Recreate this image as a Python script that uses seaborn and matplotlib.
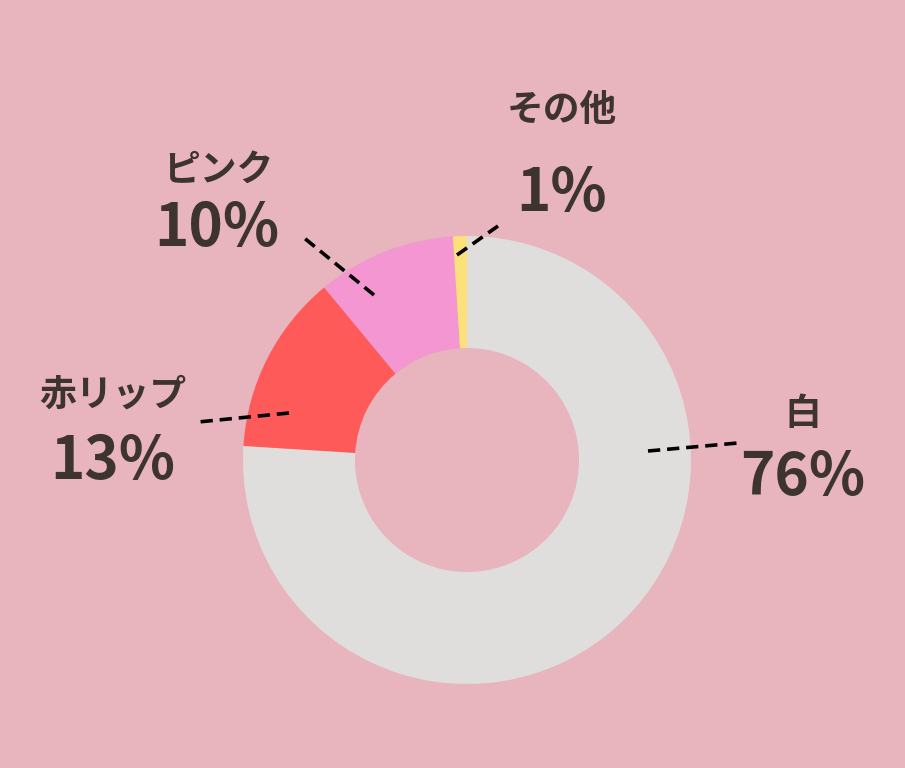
import numpy as np
import seaborn as sns
import matplotlib.pyplot as plt

sns.set_theme(style="white")
plt.rcParams["font.family"] = ["Noto Sans CJK JP", "DejaVu Sans"]

# data, clockwise from 12 o'clock
labels = ["白", "赤リップ", "ピンク", "その他"]
shares = [76, 13, 10, 1]
colors = ["#E0DEDC", "#FF5A5A", "#F396D2", "#FCE07A"]

BG = "#E8B4BE"
TEXT = "#3D342F"
W, H = 905, 768

fig = plt.figure(figsize=(W / 100, H / 100), dpi=100, facecolor=BG)
ax = fig.add_axes([0, 0, 1, 1])
ax.set_facecolor(BG)

def py(y):
    # pixel row (from top) -> data y
    return H - y

ax.pie(shares, colors=sns.color_palette(colors), startangle=90,
    counterclock=False, center=(467, py(460)), radius=224,
    wedgeprops=dict(width=112, linewidth=0), frame=True)
ax.set_xlim(0, W)
ax.set_ylim(0, H)
ax.set_aspect("equal")
ax.axis("off")

# label layout: (name pos, pct pos, leader start, leader end)
LAYOUT = {
    "白": ((803, 415), (803, 478), (648, 451), (738, 443)),
    "赤リップ": ((113, 395), (113, 462), (289, 413), (198, 422)),
    "ピンク": ((218, 170), (217, 229), (374, 295), (303, 237)),
    "その他": ((562, 110), (562, 194), (457, 255), (498, 226)),
}

for name, pct in zip(labels, shares):
    name_pos, pct_pos, p0, p1 = LAYOUT[name]
    ax.text(name_pos[0], py(name_pos[1]), name, ha="center", va="center",
        fontsize=26.5, fontweight="bold", color=TEXT)
    ax.text(pct_pos[0], py(pct_pos[1]), f"{pct}%", ha="center", va="center",
        fontsize=42, fontweight="bold", color=TEXT)
    ax.plot([p0[0], p1[0]], [py(p0[1]), py(p1[1])], color="black",
        linewidth=2.6, linestyle=(0, (3.4, 1.9)), solid_capstyle="butt")

fig.savefig("out.png", dpi=100, facecolor=BG)
plt.close(fig)
